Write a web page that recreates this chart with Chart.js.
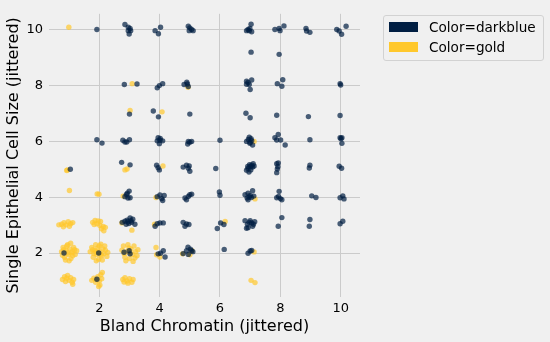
<!DOCTYPE html>
<html>
<head>
<meta charset="utf-8">
<script src="https://cdn.jsdelivr.net/npm/chart.js@4/dist/chart.umd.min.js"></script>
<style>
  html, body { margin: 0; padding: 0; background: #f0f0f0; }
  #wrap { position: relative; width: 550px; height: 342px; background: #f0f0f0; }
  #c { position: absolute; left: 0; top: 0; }
  #legend {
    position: absolute; left: 383px; top: 14.5px; width: 161px; height: 46px;
    box-sizing: border-box; border: 1px solid #d2d2d2; border-radius: 3px;
    font-family: "DejaVu Sans", sans-serif; font-size: 13.6px; color: #000;
  }
  .item { position: absolute; left: 5px; height: 20px; display: flex; align-items: center; }
  .swatch { width: 29px; height: 10px; margin-right: 11px; }
</style>
</head>
<body>
<div id="wrap">
  <canvas id="c" width="550" height="342"></canvas>
  <div id="legend"></div>
</div>
<script>
// Series names and colours
const seriesNames = ['Color=darkblue', 'Color=gold'];
const seriesColors = ['#001E42', '#FFC82C'];

// Axis tick values
const xTicks = [2, 4, 6, 8, 10];
const yTicks = [2, 4, 6, 8, 10];

// Jittered (Bland Chromatin, Single Epithelial Cell Size) pairs, dark blue class
const darkbluePoints = [
  [1.04,5.00],[0.83,2.00],
  [1.92,10.01],[1.92,6.06],[2.09,5.94],[1.98,2.00],[1.92,1.06],
  [2.85,10.19],[2.96,10.09],[3.02,10.05],[3.04,9.97],[2.96,9.97],[2.99,9.85],
  [2.83,8.04],[3.25,8.06],
  [3.00,6.98],
  [2.78,6.04],[2.85,5.98],[2.91,5.98],[3.00,6.06],
  [2.74,5.25],[3.02,5.16],
  [2.85,4.02],[2.90,4.10],[2.99,4.22],[2.95,3.97],[3.02,3.98],[2.93,4.14],
  [2.76,3.10],[2.85,3.14],[2.92,3.18],[3.02,3.26],[3.11,3.21],[2.98,3.06],[2.89,3.03],[3.07,3.10],[3.18,3.03],[2.95,3.12],[3.05,3.16],
  [2.82,2.03],[2.99,2.08],[3.02,1.97],
  [3.85,9.97],[3.96,9.86],[4.03,10.09],
  [3.92,7.92],[3.99,8.00],[4.10,8.07],
  [3.79,7.09],[3.96,6.88],
  [3.95,6.13],[4.02,6.11],[4.01,6.04],[3.99,5.92],[4.10,6.02],[3.92,6.02],
  [3.90,5.15],[3.95,5.06],[3.99,4.98],
  [3.92,4.02],[4.01,4.08],[4.07,3.95],[4.15,4.06],[4.10,3.88],
  [3.85,2.96],[3.92,3.05],[4.01,3.08],[4.12,3.08],
  [3.95,1.97],[4.03,1.99],[4.12,2.08],[4.18,1.86],
  [4.95,10.13],[5.00,10.07],[5.06,10.01],[5.11,9.97],[4.98,9.97],
  [4.81,8.04],[4.90,8.12],[4.95,7.97],[4.92,8.06],
  [5.00,6.98],
  [4.95,6.00],[5.00,5.97],[5.06,6.00],[4.93,5.91],
  [4.78,5.08],[4.89,5.15],[4.95,5.04],[4.98,5.12],[5.00,4.93],
  [4.84,3.97],[4.89,3.91],[4.95,4.03],[5.00,4.09],[5.06,4.11],
  [4.78,3.10],[4.84,2.96],[4.89,3.04],[4.97,3.02],
  [4.78,1.98],[4.89,2.08],[4.95,1.95],[5.06,2.08],[4.94,2.21],[5.02,2.14],[5.10,2.05],
  [6.00,6.04],[5.86,5.03],[5.98,4.19],[6.00,4.07],[5.91,2.88],[6.02,3.08],[6.13,3.02],[6.14,2.13],
  [6.88,9.97],[6.93,10.01],[6.99,10.05],[7.05,9.93],[7.03,10.20],[6.97,9.97],
  [7.03,9.20],
  [6.88,8.16],[6.93,8.11],[7.05,8.20],[6.97,8.04],[7.00,7.86],[6.88,8.05],
  [6.86,7.01],[7.00,6.85],
  [6.88,6.00],[6.97,6.15],[7.00,5.97],[7.05,6.03],[7.08,5.87],[6.94,6.07],[7.03,6.10],[6.99,5.93],
  [6.88,4.97],[6.93,5.03],[7.00,5.09],[7.05,5.15],[7.10,5.20],[6.96,4.90],[7.08,5.08],[7.02,4.98],[6.92,5.10],[7.13,5.12],[6.98,5.17],
  [6.83,4.09],[6.90,3.97],[6.93,4.14],[7.00,4.06],[7.08,4.23],[6.93,3.91],[7.04,3.99],[6.97,4.01],[7.12,4.04],
  [6.83,3.16],[6.91,3.03],[7.00,3.16],[7.05,3.08],[7.11,3.03],[6.93,2.91],[6.88,2.89],[6.97,3.10],[7.08,2.96],[7.15,3.12],
  [6.93,1.99],[7.00,2.07],[7.05,2.09],
  [7.82,10.01],[7.96,10.05],[7.99,9.97],[8.12,10.14],
  [7.96,9.12],
  [7.90,8.07],[8.08,8.21],[8.05,7.98],
  [7.88,6.94],
  [7.82,6.13],[7.93,6.25],[7.88,6.05],[8.01,6.05],[8.16,5.87],
  [7.88,5.20],[7.93,5.23],[7.90,5.01],[7.88,4.88],[7.92,5.09],
  [7.96,4.21],[7.88,3.98],[8.00,3.95],[8.05,3.91],[7.94,4.03],
  [8.05,3.27],[7.93,2.96],
  [8.85,10.05],[8.87,9.96],[8.98,9.91],
  [8.93,6.89],[8.98,6.06],
  [8.98,5.15],[8.96,5.05],
  [9.04,4.05],[9.18,3.99],
  [8.98,3.20],[8.96,2.96],
  [9.87,10.01],[9.95,9.96],[10.03,9.84],[10.18,10.13],
  [9.98,8.07],[10.00,8.02],
  [9.98,6.93],
  [9.98,6.13],[10.04,6.13],[10.04,5.93],[10.01,6.10],
  [9.95,5.11],[10.03,5.04],
  [9.98,3.98],[10.07,4.05],[10.11,3.94],
  [9.98,3.05],[10.07,3.14]
];

// Jittered pairs, gold class
const goldPoints = [
  [0.99,10.09],
  [0.92,4.96],[0.94,4.98],
  [1.01,4.24],
  [0.66,3.01],[0.75,3.03],[0.83,3.09],[0.90,3.01],[0.97,3.12],[1.05,3.05],[1.12,3.09],[0.81,2.94],[1.01,2.96],
  [0.75,2.05],[0.80,2.20],[0.85,1.85],[0.90,2.10],[0.95,2.30],[0.98,1.95],[1.02,2.15],[1.06,1.80],[1.10,2.05],[1.15,2.20],
  [1.20,1.95],[1.25,2.08],[0.88,1.75],[0.95,2.00],[1.05,2.35],[1.12,1.90],[0.78,1.92],[1.00,1.72],[1.18,2.12],[0.92,2.25],
  [1.08,2.00],[0.82,2.12],
  [0.78,1.05],[0.85,1.15],[0.92,1.10],[1.00,1.02],[1.05,1.12],[1.10,0.95],[0.88,0.98],[1.12,0.88],[0.95,1.20],[1.15,1.05],
  [1.93,4.12],[1.99,4.11],
  [1.78,3.10],[1.86,3.17],[1.96,3.15],[2.04,3.13],[2.02,2.99],[2.13,2.95],[2.07,2.87],[1.92,3.05],[1.83,3.02],[2.20,2.92],[2.15,2.80],
  [1.70,2.05],[1.75,2.20],[1.80,1.85],[1.85,2.10],[1.88,2.30],[1.92,1.95],[1.95,2.18],[1.98,1.78],[2.02,2.05],[2.05,2.32],
  [2.08,1.90],[2.12,2.15],[2.15,1.98],[2.20,2.10],[2.25,1.88],[2.28,2.02],[1.82,1.98],[1.90,1.72],[2.00,2.25],[2.10,1.75],
  [1.78,2.12],[2.18,2.25],[1.95,2.02],[2.05,1.95],[1.88,2.05],
  [1.75,1.02],[1.82,1.10],[1.88,0.95],[1.95,1.15],[2.00,1.00],[2.05,1.22],[2.10,1.30],[2.02,0.85],[1.98,0.80],[2.08,1.08],[1.90,1.05],
  [3.09,8.07],[3.02,7.11],
  [2.85,4.98],[2.92,5.01],
  [2.79,4.04],
  [3.08,2.82],[2.75,3.08],
  [2.75,2.10],[2.80,2.25],[2.85,1.85],[2.90,2.05],[2.95,2.30],[3.00,1.80],[3.05,2.15],[3.10,1.95],[3.15,2.25],[3.20,2.05],
  [3.25,1.90],[3.28,2.12],[2.88,1.72],[3.12,1.70],[3.02,2.02],[2.98,2.18],[3.18,1.82],[2.82,1.98],
  [2.78,1.05],[2.85,1.12],[2.92,1.00],[3.00,1.08],[3.08,0.95],[3.12,1.05],[2.95,0.92],[2.82,0.96],
  [4.08,7.06],[4.11,5.12],[3.88,3.99],[3.83,3.03],
  [3.88,2.20],[3.90,1.94],[4.01,1.86],
  [4.94,7.94],
  [4.76,1.97],[5.00,1.94],[5.07,2.08],
  [6.17,3.13],
  [7.13,6.00],[7.16,3.94],[7.13,2.04],
  [7.03,1.02],[7.16,0.94]
];

const toXY = pts => pts.map(([x, y]) => ({ x, y }));
const withAlpha = (hex, a) => {
  const n = parseInt(hex.slice(1), 16);
  return `rgba(${(n >> 16) & 255},${(n >> 8) & 255},${n & 255},${a})`;
};

// Legend built from the series names
const legendEl = document.getElementById('legend');
seriesNames.forEach((name, i) => {
  const item = document.createElement('div');
  item.className = 'item';
  item.style.top = (1 + i * 20.6) + 'px';
  const sw = document.createElement('div');
  sw.className = 'swatch';
  sw.style.background = seriesColors[i];
  const label = document.createElement('span');
  label.textContent = name;
  item.appendChild(sw);
  item.appendChild(label);
  legendEl.appendChild(item);
});

const bgPlugin = {
  id: 'bg',
  beforeDraw(chart) {
    const { ctx, width, height } = chart;
    ctx.save();
    ctx.fillStyle = '#f0f0f0';
    ctx.fillRect(0, 0, width, height);
    ctx.restore();
  }
};

const tickFont = { family: 'DejaVu Sans', size: 13 };
const titleFont = { family: 'DejaVu Sans', size: 16 };
const gridOpts = { color: '#cbcbcb', lineWidth: 1, drawTicks: false };

new Chart(document.getElementById('c'), {
  type: 'scatter',
  data: {
    datasets: [
      {
        label: seriesNames[0],
        data: toXY(darkbluePoints),
        backgroundColor: withAlpha(seriesColors[0], 0.7),
        borderWidth: 0,
        pointRadius: 2.7,
        order: 0
      },
      {
        label: seriesNames[1],
        data: toXY(goldPoints),
        backgroundColor: withAlpha(seriesColors[1], 0.7),
        borderWidth: 0,
        pointRadius: 2.7,
        order: 1
      }
    ]
  },
  options: {
    responsive: false,
    animation: false,
    devicePixelRatio: 1,
    layout: { padding: { top: 9, right: 190, bottom: 0, left: 0 } },
    plugins: { legend: { display: false }, tooltip: { enabled: false } },
    events: [],
    scales: {
      x: {
        type: 'linear',
        min: 0.333,
        max: 10.64,
        afterBuildTicks: s => { s.ticks = xTicks.map(v => ({ value: v })); },
        afterFit: s => { s.height = 45; },
        grid: gridOpts,
        border: { display: false },
        ticks: { color: '#000', font: tickFont, padding: 3.5, maxRotation: 0 },
        title: {
          display: true, text: 'Bland Chromatin (jittered)', color: '#000',
          font: titleFont, padding: { top: 0, bottom: 5.7 }
        }
      },
      y: {
        type: 'linear',
        min: 0.424,
        max: 10.574,
        afterBuildTicks: s => { s.ticks = yTicks.map(v => ({ value: v })); },
        afterFit: s => { s.width = 49; },
        grid: gridOpts,
        border: { display: false },
        ticks: { color: '#000', font: tickFont, padding: 6 },
        title: {
          display: true, text: 'Single Epithelial Cell Size (jittered)', color: '#000',
          font: titleFont, padding: { top: 4, bottom: 0 }
        }
      }
    }
  },
  plugins: [bgPlugin]
});
</script>
</body>
</html>
